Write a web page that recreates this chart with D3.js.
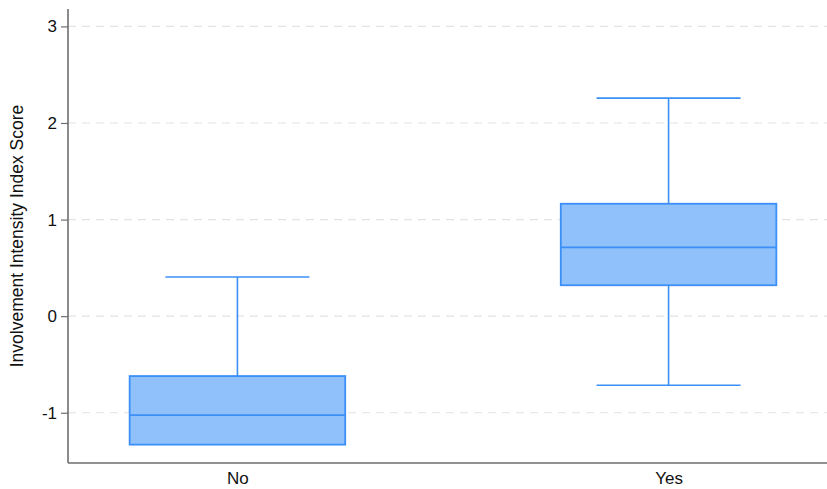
<!DOCTYPE html>
<html>
<head>
<meta charset="utf-8">
<script src="https://cdn.jsdelivr.net/npm/d3@7"></script>
<style>
  html, body { margin: 0; padding: 0; background: #fff; }
  svg { display: block; }
  text { font-family: "Liberation Sans", Arial, Helvetica, sans-serif; fill: #111; }
</style>
</head>
<body>
<svg id="chart" width="827" height="489"></svg>
<script>
// Groups and their box-plot summaries
const categories = ["No", "Yes"];
const whiskerLow  = [-1.33, -0.715];
const quartile1   = [-1.33, 0.32];
const medians     = [-1.025, 0.713];
const quartile3   = [-0.62, 1.164];
const whiskerHigh = [0.405, 2.257];
const yTicks = [-1, 0, 1, 2, 3];
const yTitle = "Involvement Intensity Index Score";

const boxes = categories.map((c, i) => ({
  cat: c, lo: whiskerLow[i], q1: quartile1[i], med: medians[i], q3: quartile3[i], hi: whiskerHigh[i]
}));

const svg = d3.select("#chart");
const plotLeft = 68, plotRight = 838, plotTop = 9, plotBottom = 463;

const x = d3.scalePoint().domain(categories).range([plotLeft, plotRight]).padding(0.393);
const y = d3.scaleLinear().domain([-1.52, 3.18]).range([plotBottom, plotTop]);
const step = x.step();
const boxW = step * 0.5;
const capW = step * 0.334;

const fill = "#90c1fb";
const stroke = "#3b8ff6";

// dashed horizontal grid
svg.append("g").selectAll("line").data(yTicks).join("line")
  .attr("x1", plotLeft).attr("x2", 827)
  .attr("y1", d => y(d)).attr("y2", d => y(d))
  .attr("stroke", "#e3e3e3").attr("stroke-width", 1.2)
  .attr("stroke-dasharray", "8,6");

// y axis (plain hyphen for negatives)
const yAxis = svg.append("g").attr("transform", `translate(${plotLeft},0)`)
  .call(d3.axisLeft(y).tickValues(yTicks).tickSize(7).tickPadding(4).tickFormat(d => String(d)));
yAxis.select(".domain").attr("stroke", "#6e6e6e").attr("stroke-width", 1.6)
  .attr("d", `M0,${plotTop}V${plotBottom}`);
yAxis.selectAll(".tick line").attr("stroke", "#6e6e6e").attr("stroke-width", 1.2);
yAxis.selectAll(".tick text").attr("font-size", 17).attr("fill", "#111")
  .style("font-family", "'Liberation Sans', Arial, sans-serif");

// x axis
const xAxis = svg.append("g").attr("transform", `translate(0,${plotBottom})`)
  .call(d3.axisBottom(x).tickSize(0).tickPadding(9));
xAxis.select(".domain").attr("stroke", "#6e6e6e").attr("stroke-width", 1.6)
  .attr("d", `M${plotLeft},0H${827}`);
xAxis.selectAll(".tick text").attr("font-size", 17).attr("fill", "#111")
  .style("font-family", "'Liberation Sans', Arial, sans-serif");

// y title
svg.append("text")
  .attr("transform", `translate(23,236) rotate(-90)`)
  .attr("text-anchor", "middle")
  .attr("font-size", 17.5)
  .text(yTitle);

// boxes
const g = svg.append("g").selectAll("g").data(boxes).join("g");

// whiskers
g.append("line")
  .attr("x1", d => x(d.cat)).attr("x2", d => x(d.cat))
  .attr("y1", d => y(d.q3)).attr("y2", d => y(d.hi))
  .attr("stroke", stroke).attr("stroke-width", 1.6);
g.append("line")
  .attr("x1", d => x(d.cat)).attr("x2", d => x(d.cat))
  .attr("y1", d => y(d.q1)).attr("y2", d => y(d.lo))
  .attr("stroke", stroke).attr("stroke-width", 1.6);
g.append("line")
  .attr("x1", d => x(d.cat) - capW / 2).attr("x2", d => x(d.cat) + capW / 2)
  .attr("y1", d => y(d.hi)).attr("y2", d => y(d.hi))
  .attr("stroke", stroke).attr("stroke-width", 1.6);
g.filter(d => d.lo < d.q1).append("line")
  .attr("x1", d => x(d.cat) - capW / 2).attr("x2", d => x(d.cat) + capW / 2)
  .attr("y1", d => y(d.lo)).attr("y2", d => y(d.lo))
  .attr("stroke", stroke).attr("stroke-width", 1.6);

g.append("rect")
  .attr("x", d => x(d.cat) - boxW / 2).attr("width", boxW)
  .attr("y", d => y(d.q3)).attr("height", d => y(d.q1) - y(d.q3))
  .attr("fill", fill).attr("stroke", stroke).attr("stroke-width", 1.8);

g.append("line")
  .attr("x1", d => x(d.cat) - boxW / 2).attr("x2", d => x(d.cat) + boxW / 2)
  .attr("y1", d => y(d.med)).attr("y2", d => y(d.med))
  .attr("stroke", stroke).attr("stroke-width", 1.8);
</script>
</body>
</html>
